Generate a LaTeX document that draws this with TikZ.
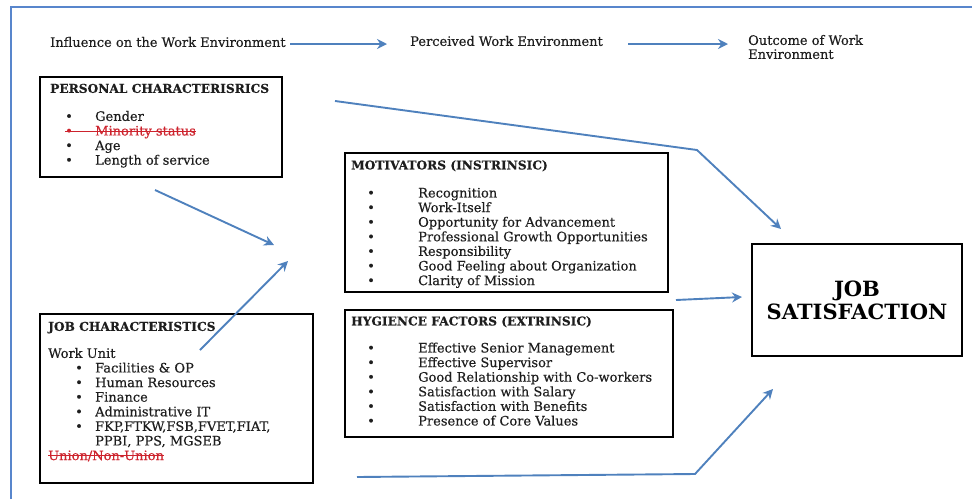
\documentclass[tikz,border=0pt]{standalone}
\usepackage{fontspec}
\setmainfont{DejaVu Serif}
\newfontfamily\itemfont{DejaVu Serif}[FakeBold=0.4]
\usepackage{xcolor}
\usetikzlibrary{arrows.meta}

\definecolor{arrowblue}{RGB}{79,129,189}
\definecolor{frameblue}{RGB}{88,134,204}
\definecolor{strikered}{RGB}{205,35,45}
\definecolor{textgrey}{RGB}{30,30,30}

\newlength{\crosslen}
\newcommand{\bul}[2][30pt]{\makebox[#1][l]{\textbullet}#2}
\newcommand{\crossed}[1]{\settowidth{\crosslen}{#1}%
  {\color{strikered}\rlap{#1}\rule[0.3em]{\crosslen}{0.8pt}}}
\newcommand{\head}[1]{{\fontsize{12.2}{14.6}\selectfont\bfseries #1}}

\tikzset{
  box/.style={draw, line width=1.1pt, inner sep=0pt},
  boxtext/.style={anchor=north west, align=left, inner sep=0pt, text=textgrey,
    font=\itemfont\fontsize{13}{14.6}\selectfont},
  toplabel/.style={anchor=west, align=left, inner sep=0pt, text=textgrey,
    font=\itemfont\fontsize{13}{14}\selectfont},
  flow/.style={draw=arrowblue, line width=1.9pt,
    -{Stealth[length=10pt,width=10pt]}},
}

\begin{document}
\begin{tikzpicture}[x=1pt, y=-1pt]
    \useasboundingbox (0,0) rectangle (972,499);

    % Frame
    \draw[frameblue, line width=1.6pt] (11,499) -- (11,7) -- (972,7);

    % Top row
    \node[toplabel] (infl) at (50,42) {Influence on the Work Environment};
    \node[toplabel] (perc) at (410,41) {Perceived Work Environment};
    \node[toplabel] (outc) at (748,47) {Outcome of Work\\Environment};
    \coordinate (topA1) at (290,44);
    \coordinate (topA2) at (387,44);
    \coordinate (topB1) at (628,44);
    \coordinate (topB2) at (728,44);
    \draw[flow] (topA1) -- (topA2);
    \draw[flow] (topB1) -- (topB2);

    % Boxes
    \node[box, minimum width=242pt, minimum height=100pt] (pers) at (161,127) {};
    \node[box, minimum width=323pt, minimum height=139pt] (motv) at (506.5,222.5) {};
    \node[box, minimum width=328pt, minimum height=127pt] (hyg) at (509,373.5) {};
    \node[box, minimum width=273pt, minimum height=169pt] (jobc) at (176.5,398.5) {};
    \node[box, minimum width=210pt, minimum height=112pt] (sat) at (857,300) {};

    % Box texts
    \node[boxtext] (perstext) at (50,83.6) {%
      \head{PERSONAL CHARACTERISRICS}\\[13.4pt]
      \hspace*{15pt}\bul{Gender}\\
      \hspace*{15pt}\crossed{\bul{Minority status}}\\
      \hspace*{15pt}\bul{Age}\\
      \hspace*{15pt}\bul{Length of service}};
    \node[boxtext] (motvtext) at (351,160) {%
      \head{MOTIVATORS (INSTRINSIC)}\\[13.4pt]
      \hspace*{16pt}\bul[51pt]{Recognition}\\
      \hspace*{16pt}\bul[51pt]{Work-Itself}\\
      \hspace*{16pt}\bul[51pt]{Opportunity for Advancement}\\
      \hspace*{16pt}\bul[51pt]{Professional Growth Opportunities}\\
      \hspace*{16pt}\bul[51pt]{Responsibility}\\
      \hspace*{16pt}\bul[51pt]{Good Feeling about Organization}\\
      \hspace*{16pt}\bul[51pt]{Clarity of Mission}};
    \node[boxtext] (hygtext) at (351,316) {%
      \head{HYGIENCE FACTORS (EXTRINSIC)}\\[12.4pt]
      \hspace*{16pt}\bul[51pt]{Effective Senior Management}\\
      \hspace*{16pt}\bul[51pt]{Effective Supervisor}\\
      \hspace*{16pt}\bul[51pt]{Good Relationship with Co-workers}\\
      \hspace*{16pt}\bul[51pt]{Satisfaction with Salary}\\
      \hspace*{16pt}\bul[51pt]{Satisfaction with Benefits}\\
      \hspace*{16pt}\bul[51pt]{Presence of Core Values}};
    \node[boxtext] (jobtext) at (48,321.6) {%
      \head{JOB CHARACTERISTICS}\\[12.4pt]
      Work Unit\\
      \hspace*{27pt}\bul[20pt]{Facilities \& OP}\\
      \hspace*{27pt}\bul[20pt]{Human Resources}\\
      \hspace*{27pt}\bul[20pt]{Finance}\\
      \hspace*{27pt}\bul[20pt]{Administrative IT}\\
      \hspace*{27pt}\bul[20pt]{FKP,FTKW,FSB,FVET,FIAT,}\\
      \hspace*{47pt}PPBI, PPS, MGSEB\\
      \crossed{Union/Non-Union}};
    \node[align=center, inner sep=0pt, font=\fontsize{21}{23}\selectfont\bfseries]
      (sattext) at (sat.center) {JOB\\SATISFACTION};

    % Arrows
    \coordinate (persout) at (155,190);
    \coordinate (jobout) at (200,350);
    \coordinate (meetA) at (274,245);
    \coordinate (meetB) at (288,261);
    \coordinate (longstart) at (335,101);
    \coordinate (longbend) at (697,150);
    \coordinate (longend) at (781,229);
    \coordinate (midstart) at (676,300);
    \coordinate (midend) at (742,297);
    \coordinate (lowstart) at (357,477);
    \coordinate (lowbend) at (695,474);
    \coordinate (lowend) at (773,389);
    \draw[flow] (persout) -- (meetA);
    \draw[flow] (jobout) -- (meetB);
    \draw[flow] (longstart) -- (longbend) -- (longend);
    \draw[flow] (midstart) -- (midend);
    \draw[flow] (lowstart) -- (lowbend) -- (lowend);
\end{tikzpicture}
\end{document}
